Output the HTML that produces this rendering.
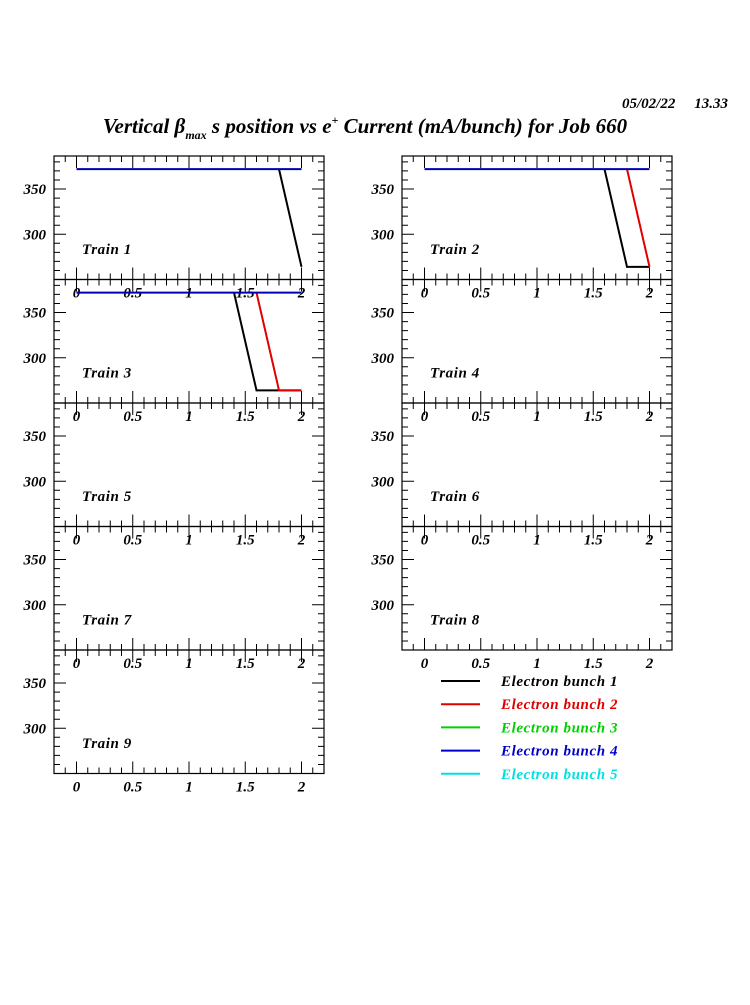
<!DOCTYPE html>
<html><head><meta charset="utf-8">
<style>
html,body{margin:0;padding:0;background:#fff;}
svg text{font-family:"Liberation Serif",serif;font-weight:bold;font-style:italic;}
</style></head>
<body>
<svg id="s" width="750" height="1000" xmlns="http://www.w3.org/2000/svg">
<text x="622" y="108" font-size="15">05/02/22</text>
<text x="728" y="108" font-size="15" text-anchor="end">13.33</text>
<text x="365" y="133" font-size="21" text-anchor="middle">Vertical β<tspan font-size="12" dy="6">max</tspan><tspan dy="-6"> s position vs e</tspan><tspan font-size="12" dy="-9">+</tspan><tspan dy="9"> Current (mA/bunch) for Job 660</tspan></text>
</svg>
<script>
var s=document.getElementById('s'),NS='http://www.w3.org/2000/svg';
function el(t,a,txt){var e=document.createElementNS(NS,t);for(var k in a)e.setAttribute(k,a[k]);if(txt!=null)e.textContent=txt;s.appendChild(e);return e;}
var H=123.5,tops=[156,279.5,403,526.5,650];
function panel(x0,top,name,series){
 var x1=x0+270,bot=top+H;
 function X(v){return x0+(v+0.2)*112.5;}
 function Y(v){return bot-(v-250)*(H/136.5);}
 el('rect',{x:x0,y:top,width:270,height:H,fill:'none',stroke:'#000','stroke-width':1.2});
 var d='';
 for(var v=260;v<=380;v+=10){var L=(v%50==0)?12:6,y=Y(v);d+='M'+x0+' '+y+'h'+L+'M'+x1+' '+y+'h'+(-L);}
 for(var i=-1;i<=21;i++){var v=i/10,L=(i%5==0)?12:6,x=X(v);d+='M'+x+' '+top+'v'+L+'M'+x+' '+bot+'v'+(-L);}
 el('path',{d:d,stroke:'#000','stroke-width':1,fill:'none'});
 [300,350].forEach(function(v){el('text',{x:x0-8,y:Y(v)+5,'font-size':15,'text-anchor':'end'},String(v));});
 ['0','0.5','1','1.5','2'].forEach(function(t,i){el('text',{x:X(i*0.5),y:bot+18,'font-size':15,'text-anchor':'middle'},t);});
 el('text',{x:x0+28,y:top+98,'font-size':15,'letter-spacing':'0.6'},name);
 series.forEach(function(sr){var p=sr[1].map(function(q){return X(q[0])+','+Y(q[1]);}).join(' ');
  el('polyline',{points:p,fill:'none',stroke:sr[0],'stroke-width':2});});
}
var B='#0000b0',K='#000',R='#e00000',lo=264;
var blue=[B,[[0,372],[2,372]]];
panel(54,tops[0],'Train 1',[[K,[[1.8,372],[2,lo]]],blue]);
panel(402,tops[0],'Train 2',[[K,[[1.6,372],[1.8,lo],[2,lo]]],[R,[[1.8,372],[2,lo]]],blue]);
panel(54,tops[1],'Train 3',[[K,[[1.4,372],[1.6,lo],[2,lo]]],[R,[[1.6,372],[1.8,lo],[2,lo]]],blue]);
panel(402,tops[1],'Train 4',[]);
panel(54,tops[2],'Train 5',[]);
panel(402,tops[2],'Train 6',[]);
panel(54,tops[3],'Train 7',[]);
panel(402,tops[3],'Train 8',[]);
panel(54,tops[4],'Train 9',[]);
var lg=[['#000','Electron bunch 1'],['#e00000','Electron bunch 2'],['#00d000','Electron bunch 3'],['#0000cc','Electron bunch 4'],['#00e0e0','Electron bunch 5']];
lg.forEach(function(l,i){var y=681+i*23.2;
 el('line',{x1:441,x2:480,y1:y,y2:y,stroke:l[0],'stroke-width':2});
 el('text',{x:501,y:y+5,'font-size':15,'letter-spacing':'0.6',fill:l[0]},l[1]);});
</script>
</body></html>
